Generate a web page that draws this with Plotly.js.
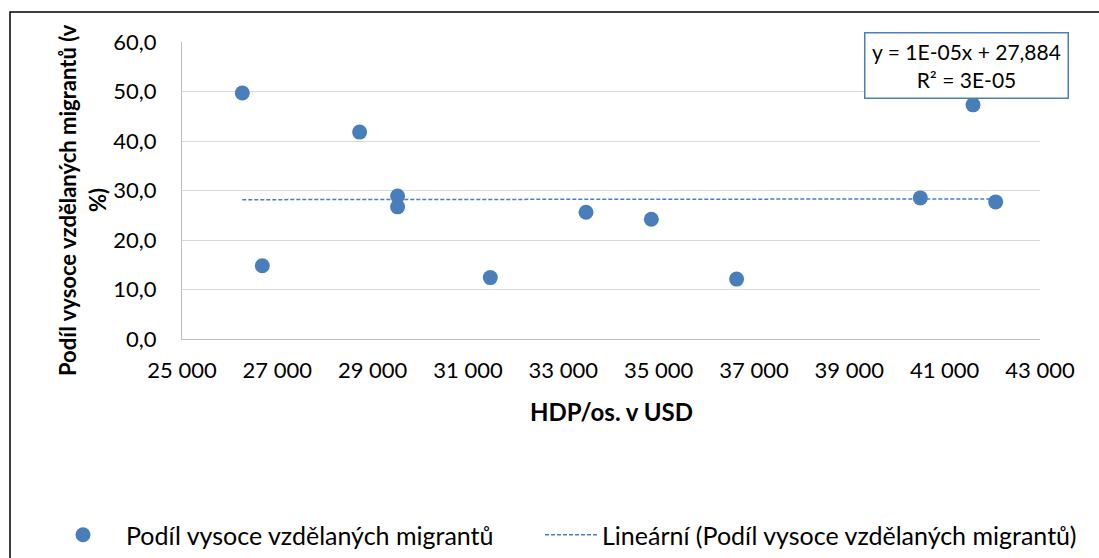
<!DOCTYPE html>
<html>
<head>
<meta charset="utf-8">
<script src="https://cdn.plot.ly/plotly-3.0.1.min.js"></script>
<style>html,body{margin:0;padding:0;background:#fff;}#chart{width:1099px;height:558px;}</style>
</head>
<body>
<div id="chart"></div>
<script>
// Data
const hdp = [26265, 26685, 28726, 29523, 29523, 31468, 33476, 34846, 36635, 40489, 41595, 42070];
const podil = [49.7, 14.8, 41.8, 28.9, 26.7, 12.4, 25.6, 24.2, 12.1, 28.5, 47.3, 27.7];
const seriesName = 'Podíl vysoce vzdělaných migrantů';
const trendName = 'Lineární (Podíl vysoce vzdělaných migrantů)';
const trendSlope = 0.00001;
const trendIntercept = 27.884;
const equationText = 'y = 1E-05x + 27,884<br>R² = 3E-05';
const xTitle = 'HDP/os. v USD';
const yTitleLines = ['Podíl vysoce vzdělaných migrantů (v', '%)'];

const W = 1099, H = 558;
const L = 182, R = 59, T = 42, B = 219;
const pw = W - L - R, ph = H - T - B;
const px = p => (p - L) / pw;
const py = p => 1 - (p - T) / ph;

const blue = '#4A7EBB';
const font = 'Lato, "Open Sans", sans-serif';

const xMin = Math.min(...hdp), xMax = Math.max(...hdp);
const trendX = [xMin, xMax];
const trendY = trendX.map(v => trendSlope * v + trendIntercept);

const traces = [
  {x: hdp, y: podil, type: 'scatter', mode: 'markers', name: seriesName,
   marker: {color: blue, size: 15}, cliponaxis: false, legend: 'legend'},
  {x: trendX, y: trendY, type: 'scatter', mode: 'lines', name: trendName,
   line: {color: blue, width: 1.5, dash: '4px,2px'}, legend: 'legend2'}
];

const legendBase = {orientation: 'h', yanchor: 'top', xanchor: 'left', y: py(512),
  font: {family: font, size: 25, color: '#000'}, bgcolor: 'rgba(0,0,0,0)'};

const layout = {
  width: W, height: H,
  margin: {l: L, r: R, t: T, b: B, pad: 0, autoexpand: false},
  paper_bgcolor: '#fff', plot_bgcolor: '#fff',
  separators: ', ',
  font: {family: font, size: 20, color: '#000'},
  showlegend: true,
  legend: Object.assign({}, legendBase, {x: px(40), itemwidth: 76}),
  legend2: Object.assign({}, legendBase, {x: px(540), itemwidth: 52}),
  xaxis: {range: [25000, 43000], dtick: 2000, tick0: 25000, tickformat: ',d',
          showgrid: false, zeroline: false, showline: true, linecolor: '#BFBFBF', linewidth: 1,
          ticks: '', tickfont: {family: font, size: 22}, ticklabelstandoff: 12},
  yaxis: {range: [0, 60], dtick: 10, tickformat: '.1f',
          showgrid: true, gridcolor: '#D9D9D9', gridwidth: 1, zeroline: false,
          showline: true, linecolor: '#BFBFBF', linewidth: 1,
          ticks: '', tickfont: {family: font, size: 22}, ticklabelstandoff: 20},
  shapes: [
    {type: 'rect', xref: 'paper', yref: 'paper', x0: px(10), x1: px(1200), y0: py(12), y1: py(700),
     line: {color: '#000', width: 1.5}, fillcolor: 'rgba(0,0,0,0)', layer: 'below'}
  ],
  annotations: [
    {xref: 'paper', yref: 'paper', x: px(611), y: py(411), xanchor: 'center', yanchor: 'middle',
     text: '<b>' + xTitle + '</b>', showarrow: false, font: {family: font, size: 24}},
    {xref: 'paper', yref: 'paper', x: px(67), y: py(200), xanchor: 'center', yanchor: 'middle',
     text: '<b>' + yTitleLines[0] + '</b>', textangle: -90, showarrow: false,
     font: {family: font, size: 22}},
    {xref: 'paper', yref: 'paper', x: px(97), y: py(200), xanchor: 'center', yanchor: 'middle',
     text: '<b>' + yTitleLines[1] + '</b>', textangle: -90, showarrow: false,
     font: {family: font, size: 22}},
    {xref: 'paper', yref: 'paper', x: px(966), y: py(65), xanchor: 'center', yanchor: 'middle',
     text: equationText, showarrow: false, align: 'center',
     font: {family: font, size: 21}, bgcolor: '#fff', bordercolor: blue, borderwidth: 1.5,
     width: 200, height: 62, borderpad: 1}
  ]
};

Plotly.newPlot('chart', traces, layout, {displayModeBar: false, staticPlot: true});
</script>
</body>
</html>
